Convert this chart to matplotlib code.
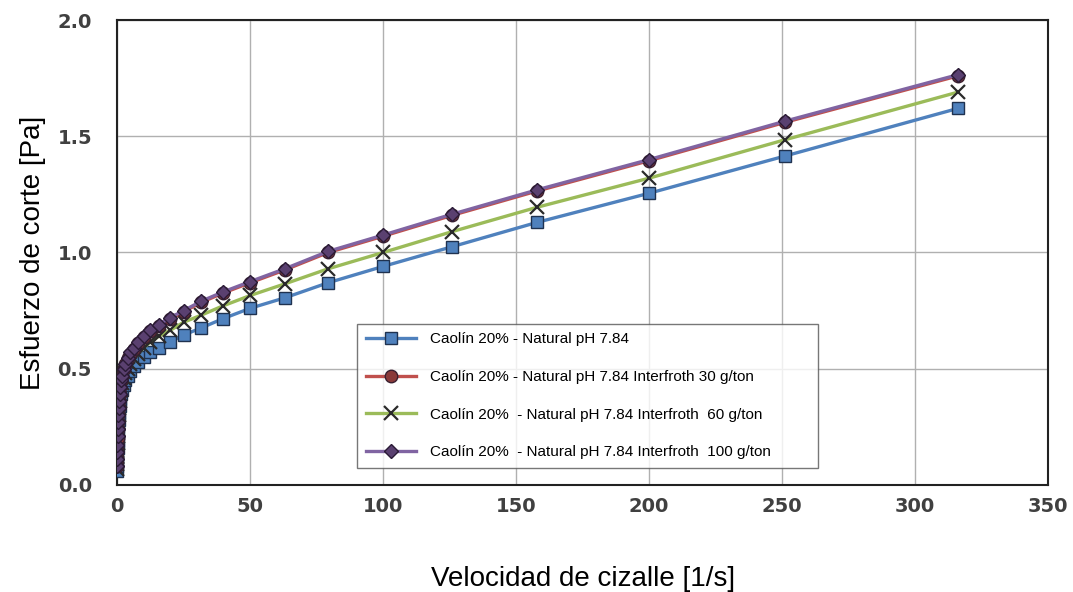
import matplotlib.pyplot as plt
import numpy as np

# shear rate [1/s]
shear_rate = [0.1, 0.126, 0.158, 0.2, 0.251, 0.316, 0.398, 0.501, 0.631, 0.794,
              1.0, 1.26, 1.58, 2.0, 2.51, 3.16, 3.98, 5.01, 6.31, 7.94,
              10.0, 12.6, 15.8, 20.0, 25.1, 31.6, 39.8, 50.1, 63.1, 79.4,
              100.0, 126.0, 158.0, 200.0, 251.0, 316.0]

# shear stress [Pa]
natural = [0.06, 0.08, 0.10, 0.13, 0.16, 0.19, 0.22, 0.25, 0.28, 0.31,
           0.34, 0.37, 0.39, 0.41, 0.43, 0.45, 0.47, 0.49, 0.51, 0.53,
           0.55, 0.57, 0.59, 0.615, 0.645, 0.675, 0.715, 0.76, 0.805, 0.87,
           0.94, 1.025, 1.13, 1.255, 1.415, 1.62]
ifroth30 = [0.08, 0.11, 0.14, 0.17, 0.20, 0.24, 0.27, 0.30, 0.33, 0.36,
            0.39, 0.42, 0.45, 0.47, 0.50, 0.52, 0.545, 0.565, 0.585, 0.61,
            0.635, 0.66, 0.685, 0.715, 0.745, 0.785, 0.825, 0.87, 0.925, 1.0,
            1.07, 1.16, 1.265, 1.395, 1.56, 1.76]
ifroth60 = [0.07, 0.09, 0.12, 0.15, 0.18, 0.21, 0.24, 0.27, 0.30, 0.33,
            0.36, 0.39, 0.41, 0.44, 0.46, 0.48, 0.50, 0.52, 0.54, 0.565,
            0.59, 0.615, 0.64, 0.665, 0.70, 0.73, 0.77, 0.815, 0.865, 0.93,
            1.0, 1.09, 1.195, 1.32, 1.485, 1.69]
ifroth100 = [0.08, 0.11, 0.14, 0.17, 0.21, 0.24, 0.27, 0.30, 0.33, 0.36,
             0.39, 0.42, 0.45, 0.47, 0.50, 0.52, 0.545, 0.57, 0.59, 0.615,
             0.64, 0.665, 0.69, 0.72, 0.75, 0.79, 0.83, 0.875, 0.93, 1.005,
             1.075, 1.165, 1.27, 1.4, 1.565, 1.765]

labels = ['Caolín 20% - Natural pH 7.84',
          'Caolín 20% - Natural pH 7.84 Interfroth 30 g/ton',
          'Caolín 20%  - Natural pH 7.84 Interfroth  60 g/ton',
          'Caolín 20%  - Natural pH 7.84 Interfroth  100 g/ton']

fig = plt.figure(figsize=(10.73, 5.92), dpi=100)
ax = fig.add_axes([0.109, 0.181, 0.868, 0.785])

l1, = ax.plot(shear_rate, natural, color='#4F81BD', lw=2.4, marker='s', ms=9,
              mfc='#4F81BD', mec='#1F3250', mew=1.0, zorder=3)
l3, = ax.plot(shear_rate, ifroth60, color='#9BBB59', lw=2.4, marker='x', ms=10,
              mec='#2a2a2a', mew=1.6, zorder=4)
l2, = ax.plot(shear_rate, ifroth30, color='#C0504D', lw=2.4, marker='o', ms=9,
              mfc='#8a3a3a', mec='#3a2030', mew=1.0, zorder=5)
l4, = ax.plot(shear_rate, ifroth100, color='#8064A2', lw=2.4, marker='D', ms=7,
              mfc='#5a4070', mec='#2a1a35', mew=1.0, zorder=6)

ax.set_xlim(0, 350)
ax.set_ylim(0, 2.0)
ax.set_xticks(np.arange(0, 351, 50))
ax.set_yticks([0.0, 0.5, 1.0, 1.5, 2.0])
ax.set_yticklabels(['0.0', '0.5', '1.0', '1.5', '2.0'])
ax.grid(True, color='#b0b0b0', lw=1.0)
ax.set_axisbelow(True)
for s in ax.spines.values():
    s.set_color('#222222')
    s.set_linewidth(1.5)
ax.tick_params(axis='both', length=0, labelsize=14, labelcolor='#404040')
ax.tick_params(axis='y', pad=18)
ax.tick_params(axis='x', pad=9)
for t in ax.get_xticklabels() + ax.get_yticklabels():
    t.set_fontweight('bold')

ax.set_xlabel('Velocidad de cizalle [1/s]', fontsize=20,
              family='Liberation Sans', labelpad=36)
ax.set_ylabel('Esfuerzo de corte [Pa]', fontsize=20,
              family='Liberation Sans', labelpad=8)

leg = ax.legend([l1, l2, l3, l4], labels, loc='lower left',
                bbox_to_anchor=(0.258, 0.037, 0.495, 0.313), mode='expand',
                prop={'family': 'Liberation Sans', 'size': 11},
                frameon=True, fancybox=False, edgecolor='#555555',
                handlelength=3.3, handletextpad=0.9, labelspacing=1.55,
                borderpad=0.55, borderaxespad=0)
leg.get_frame().set_linewidth(1.0)

fig.savefig('out.png', dpi=100)
